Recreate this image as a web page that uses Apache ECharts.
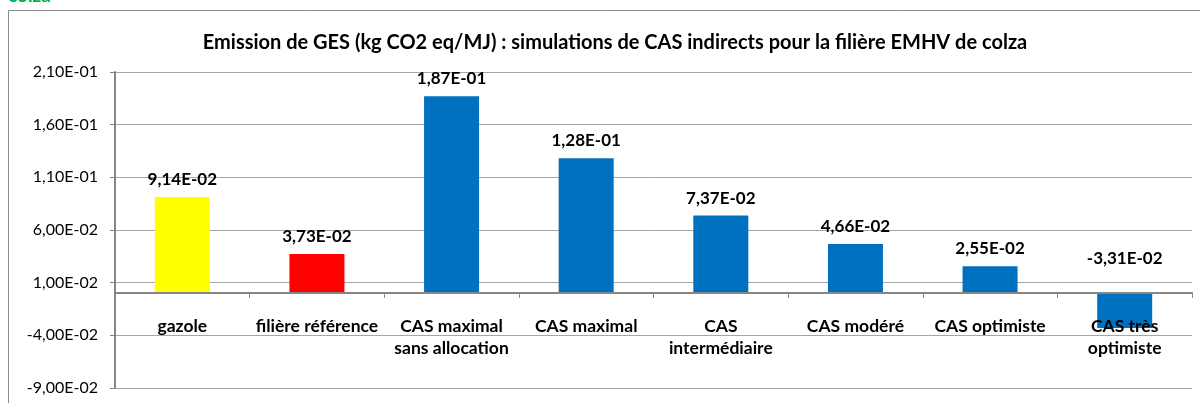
<!DOCTYPE html>
<html>
<head>
<meta charset="utf-8">
<script src="https://cdn.jsdelivr.net/npm/echarts@6/dist/echarts.min.js"></script>
<style>
  html, body { margin: 0; padding: 0; background: #fff; }
  #main { width: 1200px; height: 403px; }
</style>
</head>
<body>
<div id="main"></div>
<script>
// catégories et valeurs (kg CO2 eq/MJ)
var categories = ['gazole', 'filière référence', 'CAS maximal\nsans allocation', 'CAS maximal',
  'CAS\nintermédiaire', 'CAS modéré', 'CAS optimiste', 'CAS très\noptimiste'];
var values = [0.0914, 0.0373, 0.187, 0.128, 0.0737, 0.0466, 0.0255, -0.0331];
var barColors = ['#FFFF00', '#FF0000', '#0070C0', '#0070C0', '#0070C0', '#0070C0', '#0070C0', '#0070C0'];

var font = 'Lato, "Open Sans", sans-serif';
var yMin = -0.09, yMax = 0.21;
var gridTop = 72, gridBottom = 15, chartH = 403;

// format "2,10E-01"
function sci(v) {
  if (Math.abs(v) < 1e-12) return '0,00E+00';
  var s = Number(v).toExponential(2);
  var parts = s.split('e');
  var exp = parseInt(parts[1], 10);
  var sign = exp < 0 ? '-' : '+';
  var e = Math.abs(exp);
  return parts[0].replace('.', ',') + 'E' + sign + (e < 10 ? '0' + e : e);
}

// l'axe des catégories est posé sur y = 0
var plotH = chartH - gridTop - gridBottom;
var zeroOffset = -Math.round(plotH * (0 - yMin) / (yMax - yMin));

var chart = echarts.init(document.getElementById('main'));
chart.setOption({
  animation: false,
  textStyle: { fontFamily: font },
  graphic: [
    {
      type: 'rect',
      shape: { x: 8.5, y: 10.5, width: 1220, height: 420 },
      style: { fill: 'none', stroke: '#8c8c8c', lineWidth: 1 },
      z: -1
    },
    {
      type: 'text',
      left: 8, top: -14,
      style: { text: 'colza', fill: '#00B050', font: 'bold 19px ' + font }
    }
  ],
  title: {
    text: 'Emission de GES (kg CO2 eq/MJ) : simulations de CAS indirects pour la filière EMHV de colza',
    left: 610, top: 28, textAlign: 'center',
    textStyle: { fontFamily: font, fontSize: 20, fontWeight: 'bold', color: '#000' }
  },
  grid: { left: 115, top: gridTop, right: 8, bottom: gridBottom, outerBoundsMode: 'none' },
  xAxis: {
    type: 'category',
    data: categories,
    z: 5,
    offset: zeroOffset,
    axisLine: { onZero: false, lineStyle: { color: '#868686', width: 2 } },
    axisTick: { show: true, length: 5, lineStyle: { color: '#868686' } },
    axisLabel: {
      interval: 0, margin: 22, color: '#000', fontSize: 17.5, fontWeight: 'bold',
      fontFamily: font, lineHeight: 22
    }
  },
  yAxis: {
    type: 'value',
    min: yMin, max: yMax, interval: 0.05,
    axisLine: { show: true, lineStyle: { color: '#868686', width: 2 } },
    axisTick: { show: true, length: 5, lineStyle: { color: '#868686' } },
    splitLine: { lineStyle: { color: '#a6a6a6', width: 1 } },
    axisLabel: {
      margin: 17, color: '#000', fontSize: 16, fontFamily: font,
      formatter: function (v) { return sci(v); }
    }
  },
  series: [{
    type: 'bar',
    barWidth: 55,
    data: values.map(function (v, i) {
      return {
        value: v,
        itemStyle: { color: barColors[i] },
        label: v < 0 ? { position: 'top', distance: 26 } : undefined
      };
    }),
    label: {
      show: true, position: 'top', distance: 9,
      color: '#000', fontSize: 17, fontWeight: 'bold', fontFamily: font,
      formatter: function (p) { return sci(p.value); }
    }
  }]
});
</script>
</body>
</html>
